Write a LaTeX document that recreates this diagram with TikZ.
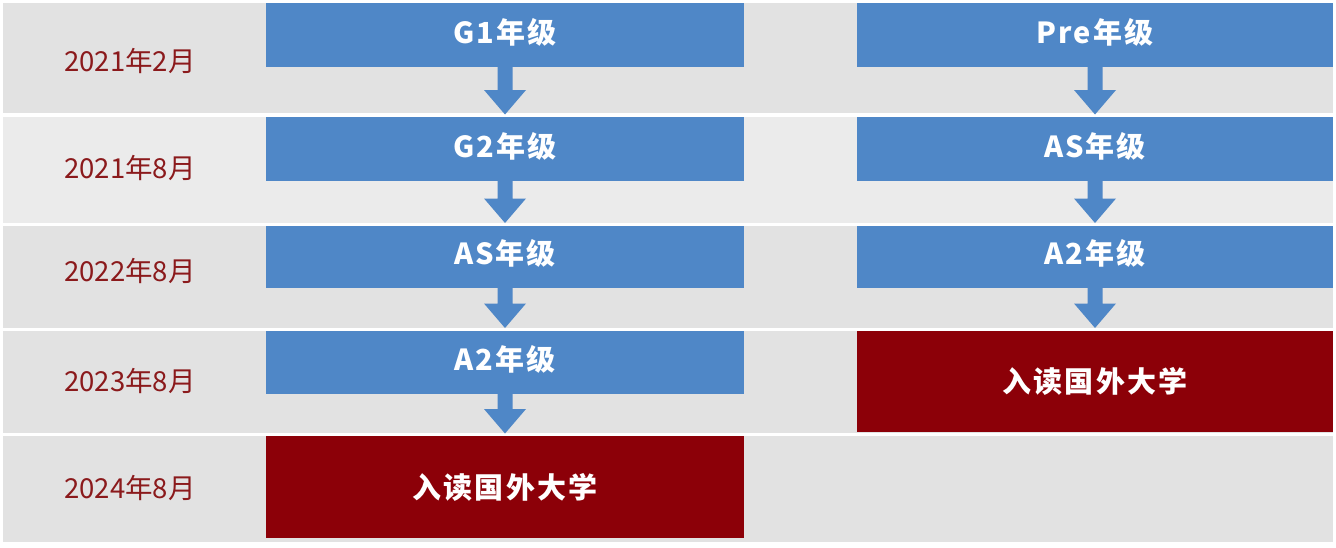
\documentclass[tikz,border=0pt]{standalone}
\usepackage{fontspec}
\setmainfont{Noto Sans CJK SC}
\newfontfamily\boxfont[LetterSpace=7]{Noto Sans CJK SC}
\usetikzlibrary{calc}
\definecolor{bandgray}{HTML}{E2E2E2}
\definecolor{bandlight}{HTML}{EBEBEB}
\definecolor{boxblue}{HTML}{4F87C7}
\definecolor{boxred}{HTML}{8C0008}
\definecolor{datered}{HTML}{8B1A1C}
\tikzset{
  band/.style={fill=bandgray, draw=none, inner sep=0pt, outer sep=0pt, anchor=north west},
  bluebox/.style={fill=boxblue, draw=none, inner sep=0pt, outer sep=0pt, anchor=north west},
  redbox/.style={fill=boxred, draw=none, inner sep=0pt, outer sep=0pt, anchor=north west},
  boxtext/.style={text=white, font=\boxfont\bfseries\fontsize{29pt}{32pt}\selectfont, inner sep=0pt},
  datetext/.style={text=datered, font=\fontsize{27.5pt}{31pt}\selectfont, inner sep=0pt},
  arrowfill/.style={fill=boxblue},
}
\newcommand\blockarr[2]{%
  \fill[arrowfill] let \p1=(#1.south), \p2=(#2.north) in
    (\x1-7.5pt,\y1) -- (\x1+7.5pt,\y1) -- (\x1+7.5pt,\y2+27pt) --
    (\x1+21pt,\y2+27pt) -- (\x1,\y2+2.5pt) -- (\x1-21pt,\y2+27pt) --
    (\x1-7.5pt,\y2+27pt) -- cycle;}
\begin{document}
\begin{tikzpicture}[x=1pt,y=-1pt]
\useasboundingbox[fill=white] (0,0) rectangle (1336,547);
% bands
\node[band, minimum width=1330pt, minimum height=110pt] (r1) at (3,3) {};
\node[band, fill=bandlight, minimum width=1330pt, minimum height=106pt] (r2) at (3,116.5) {};
\node[band, minimum width=1330pt, minimum height=102pt] (r3) at (3,225.5) {};
\node[band, minimum width=1330pt, minimum height=102.5pt] (r4) at (3,330.5) {};
\node[band, minimum width=1330pt, minimum height=106pt] (r5) at (3,436) {};
% dates
\node[datetext] (d1) at (130,61) {2021年2月};
\node[datetext] (d2) at (130,168) {2021年8月};
\node[datetext] (d3) at (130,271) {2022年8月};
\node[datetext] (d4) at (130,381) {2023年8月};
\node[datetext] (d5) at (130,488) {2024年8月};
% left column
\node[bluebox, minimum width=478pt, minimum height=64pt,
  label={[boxtext, yshift=3pt]center:G1年级}] (b1) at (266,3) {};
\node[bluebox, minimum width=478pt, minimum height=64pt,
  label={[boxtext, yshift=3pt]center:G2年级}] (b2) at (266,117) {};
\node[bluebox, minimum width=478pt, minimum height=62.5pt,
  label={[boxtext, yshift=3pt]center:AS年级}] (b3) at (266,225.5) {};
\node[bluebox, minimum width=478pt, minimum height=63.5pt,
  label={[boxtext, yshift=3pt]center:A2年级}] (b4) at (266,330.5) {};
\node[redbox, minimum width=478pt, minimum height=102pt,
  label={[boxtext]center:入读国外大学}] (u1) at (266,436) {};
% right column
\node[bluebox, minimum width=476pt, minimum height=64pt,
  label={[boxtext, yshift=3pt]center:Pre年级}] (p1) at (857,3) {};
\node[bluebox, minimum width=476pt, minimum height=64pt,
  label={[boxtext, yshift=3pt]center:AS年级}] (p2) at (857,117) {};
\node[bluebox, minimum width=476pt, minimum height=62.5pt,
  label={[boxtext, yshift=3pt]center:A2年级}] (p3) at (857,225.5) {};
\node[redbox, minimum width=476pt, minimum height=101.5pt,
  label={[boxtext]center:入读国外大学}] (u2) at (857,330.5) {};
% arrows
\blockarr{b1}{b2}
\blockarr{b2}{b3}
\blockarr{b3}{b4}
\blockarr{b4}{u1}
\blockarr{p1}{p2}
\blockarr{p2}{p3}
\blockarr{p3}{u2}
\end{tikzpicture}
\end{document}
